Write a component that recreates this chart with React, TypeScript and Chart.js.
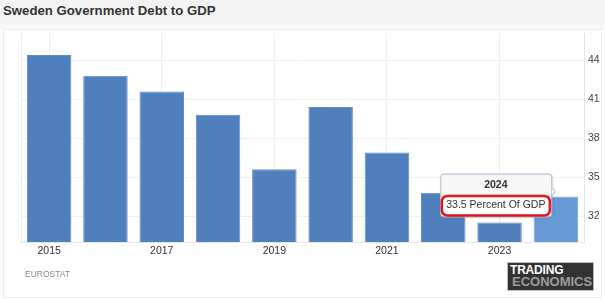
import React, { useEffect, useRef } from "react";
import { Chart, registerables } from "chart.js";

Chart.register(...registerables);

// Sweden general government debt, percent of GDP
const years = ["2015", "2016", "2017", "2018", "2019", "2020", "2021", "2022", "2023", "2024"];
const debtToGdp = [44.4, 42.8, 41.6, 39.8, 35.6, 40.4, 36.9, 33.8, 31.5, 33.5];
const yTicks = [32, 35, 38, 41, 44];
const highlightIndex = 9;
const unitLabel = "Percent Of GDP";

const FONT = "'Liberation Sans', Arial, Helvetica, sans-serif";

// Left frame line of the plot area
const frameLine = {
  id: "frameLine",
  beforeDatasetsDraw(chart: any) {
    const { ctx, chartArea } = chart;
    ctx.save();
    ctx.strokeStyle = "#ececec";
    ctx.lineWidth = 1;
    ctx.beginPath();
    ctx.moveTo(Math.round(chartArea.left) + 0.5, chartArea.top);
    ctx.lineTo(Math.round(chartArea.left) + 0.5, chartArea.bottom);
    ctx.stroke();
    ctx.restore();
  },
};

function roundRect(ctx: CanvasRenderingContext2D, x: number, y: number, w: number, h: number, r: number) {
  ctx.beginPath();
  ctx.moveTo(x + r, y);
  ctx.lineTo(x + w - r, y);
  ctx.quadraticCurveTo(x + w, y, x + w, y + r);
  ctx.lineTo(x + w, y + h - r);
  ctx.quadraticCurveTo(x + w, y + h, x + w - r, y + h);
  ctx.lineTo(x + r, y + h);
  ctx.quadraticCurveTo(x, y + h, x, y + h - r);
  ctx.lineTo(x, y + r);
  ctx.quadraticCurveTo(x, y, x + r, y);
  ctx.closePath();
}

// Pinned tooltip for the highlighted year, with a red ring around the value
const pinnedTooltip = {
  id: "pinnedTooltip",
  afterDraw(chart: any) {
    const el = chart.getDatasetMeta(0).data[highlightIndex];
    if (!el) return;
    const { ctx } = chart;
    const tipX = el.x - 0.5;
    const tipY = el.y - 5;
    const w = 111;
    const h = 43;
    const right = tipX - 4;
    const left = right - w;
    const top = tipY - 18;
    const titleH = 21;

    ctx.save();
    // body with soft shadow
    ctx.shadowColor = "rgba(0,0,0,0.18)";
    ctx.shadowBlur = 3;
    ctx.shadowOffsetX = 1;
    ctx.shadowOffsetY = 1;
    roundRect(ctx, left, top, w, h, 3);
    ctx.fillStyle = "#ffffff";
    ctx.fill();
    ctx.shadowColor = "transparent";

    // title band
    ctx.save();
    roundRect(ctx, left, top, w, h, 3);
    ctx.clip();
    ctx.fillStyle = "#f7f7f7";
    ctx.fillRect(left, top, w, titleH);
    ctx.strokeStyle = "#dddddd";
    ctx.beginPath();
    ctx.moveTo(left, top + titleH + 0.5);
    ctx.lineTo(left + w, top + titleH + 0.5);
    ctx.stroke();
    ctx.restore();

    // border + caret
    ctx.strokeStyle = "#a9bccf";
    ctx.lineWidth = 1;
    roundRect(ctx, left + 0.5, top + 0.5, w, h, 3);
    ctx.stroke();
    ctx.beginPath();
    ctx.moveTo(right + 0.5, tipY - 4);
    ctx.lineTo(tipX, tipY);
    ctx.lineTo(right + 0.5, tipY + 4);
    ctx.fillStyle = "#ffffff";
    ctx.fill();
    ctx.stroke();

    // text
    ctx.fillStyle = "#333333";
    ctx.textAlign = "center";
    ctx.textBaseline = "middle";
    ctx.font = `bold 10.5px ${FONT}`;
    ctx.fillText(years[highlightIndex], left + w / 2, top + 12);
    ctx.font = `10.5px ${FONT}`;
    ctx.fillText(`${debtToGdp[highlightIndex]} ${unitLabel}`, left + w / 2, top + 32);

    // red ring
    ctx.strokeStyle = "#e3141c";
    ctx.lineWidth = 2.5;
    roundRect(ctx, left + 1.5, top + titleH + 1.5, w - 3, h - titleH - 2.5, 6);
    ctx.stroke();
    ctx.restore();
  },
};

function DebtChart() {
  const canvasRef = useRef<HTMLCanvasElement | null>(null);

  useEffect(() => {
    if (!canvasRef.current) return;
    const chart = new Chart(canvasRef.current, {
      type: "bar",
      data: {
        labels: years,
        datasets: [
          {
            data: debtToGdp,
            backgroundColor: debtToGdp.map((_, i) => (i === highlightIndex ? "#6699d6" : "#4f80bd")),
            borderColor: debtToGdp.map((_, i) => (i === highlightIndex ? "#7aa6dc" : "#5f8dc6")),
            borderWidth: 1,
            categoryPercentage: 1,
            barPercentage: 0.79,
          },
        ],
      },
      options: {
        animation: false,
        responsive: false,
        devicePixelRatio: 1,
        layout: { padding: { left: 21, top: 33, right: 0, bottom: 0 } },
        plugins: {
          legend: { display: false },
          tooltip: { enabled: false },
          title: { display: false },
        },
        events: [],
        scales: {
          x: {
            grid: {
              offset: false,
              drawTicks: false,
              color: (c: any) => (c.index % 2 === 0 ? "#eeeeee" : "rgba(0,0,0,0)"),
            },
            border: { color: "#e6e6e6" },
            ticks: {
              autoSkip: false,
              maxRotation: 0,
              padding: 3,
              color: "#333333",
              font: { family: FONT, size: 10.5 },
              callback: (_v: any, i: number) => (i % 2 === 0 ? years[i] : ""),
            },
            afterFit: (s: any) => {
              s.height = 58;
            },
          },
          y: {
            position: "right",
            min: 30,
            max: 46.1,
            afterBuildTicks: (s: any) => {
              s.ticks = yTicks.map((v) => ({ value: v }));
            },
            grid: { color: "#f0f0f0", drawTicks: false },
            border: { color: "#e3e3e3" },
            ticks: {
              padding: 4,
              color: "#444444",
              font: { family: FONT, size: 10.5 },
            },
            afterFit: (s: any) => {
              s.width = 21;
            },
          },
        },
      },
      plugins: [frameLine, pinnedTooltip],
    } as any);
    return () => chart.destroy();
  }, []);

  return <canvas ref={canvasRef} width={605} height={300} style={{ position: "absolute", left: 0, top: 0, width: 605, height: 300 }} />;
}

export default function App() {
  return (
    <div
      style={{
        position: "fixed",
        left: 0,
        top: 0,
        width: 605,
        height: 300,
        background: "#ffffff",
        overflow: "hidden",
        fontFamily: FONT,
      }}
    >
      <div style={{ position: "absolute", left: 0, top: 0, width: 605, height: 24, background: "#f3f3f3" }} />
      <div style={{ position: "absolute", left: 0, top: 24, width: 605, height: 6, background: "#f8f8f8" }} />
      <div
        style={{
          position: "absolute",
          left: 3,
          top: 29,
          width: 597,
          height: 267,
          background: "#ffffff",
          border: "1px solid #ececec",
        }}
      />
      <div
        style={{
          position: "absolute",
          left: 3,
          top: 4,
          fontSize: 13.2,
          lineHeight: "13.2px",
          fontWeight: "bold",
          color: "#333333",
          whiteSpace: "nowrap",
        }}
      >
        Sweden Government Debt to GDP
      </div>
      <DebtChart />
      <div
        style={{
          position: "absolute",
          left: 25,
          top: 270,
          fontSize: 8.5,
          lineHeight: "8.5px",
          color: "#888888",
        }}
      >
        EUROSTAT
      </div>
      <div
        style={{
          position: "absolute",
          left: 507,
          top: 262,
          width: 87,
          height: 29,
          background: "#333333",
          border: "1px solid #bbbbbb",
          boxSizing: "border-box",
          fontWeight: "bold",
          whiteSpace: "nowrap",
        }}
      >
        <span style={{ position: "absolute", left: 2, top: 1, fontSize: 12, lineHeight: "12px", color: "#ffffff", letterSpacing: -0.2 }}>
          TRADING
        </span>
        <span style={{ position: "absolute", left: 4, top: 12, fontSize: 13, lineHeight: "13px", color: "#9c9c9c" }}>
          ECONOMICS
        </span>
      </div>
    </div>
  );
}
